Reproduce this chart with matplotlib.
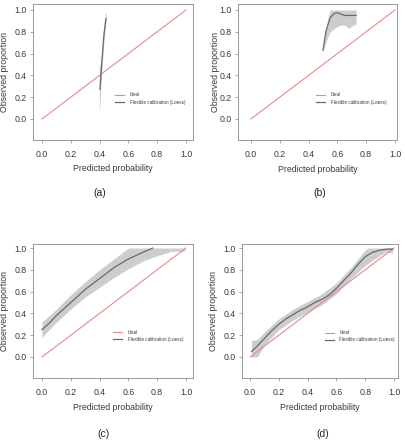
import matplotlib
matplotlib.use("Agg")
import matplotlib.pyplot as plt
import numpy as np

plt.rcParams['font.family'] = ['Liberation Sans', 'DejaVu Sans']

# ---------------- data ----------------
ideal_x = [0.0, 1.0]
ideal_y = [0.0, 1.0]

# (a)
a_x = [0.403, 0.41, 0.42, 0.43, 0.444]
a_y = [0.27, 0.42, 0.60, 0.77, 0.92]
a_band_x = [0.398, 0.405, 0.41, 0.42, 0.43, 0.44, 0.446]
a_lo = [0.05, 0.18, 0.33, 0.52, 0.70, 0.84, 0.90]
a_hi = [0.45, 0.52, 0.55, 0.68, 0.85, 0.97, 0.98]

# (b)
b_x = [0.50, 0.52, 0.55, 0.58, 0.60, 0.62, 0.65, 0.70, 0.73]
b_y = [0.63, 0.80, 0.93, 0.97, 0.975, 0.965, 0.95, 0.95, 0.95]
b_band_x = [0.50, 0.52, 0.53, 0.55, 0.58, 0.60, 0.62, 0.65, 0.68, 0.70, 0.72, 0.73]
b_lo = [0.62, 0.70, 0.74, 0.80, 0.83, 0.85, 0.86, 0.86, 0.83, 0.85, 0.87, 0.86]
b_hi = [0.66, 0.82, 0.90, 1.00, 1.00, 1.00, 1.00, 1.00, 1.00, 1.00, 1.00, 1.00]

# (c)
c_x = [0.0, 0.05, 0.1, 0.15, 0.2, 0.25, 0.3, 0.35, 0.4, 0.45, 0.5, 0.55, 0.6, 0.65, 0.7, 0.77]
c_y = [0.25, 0.31, 0.38, 0.44, 0.50, 0.56, 0.62, 0.67, 0.72, 0.77, 0.82, 0.86, 0.90, 0.93, 0.96, 1.0]
c_band_x = [0.0, 0.1, 0.2, 0.3, 0.4, 0.5, 0.6, 0.7, 0.8, 0.9, 0.99]
c_lo = [0.18, 0.32, 0.44, 0.55, 0.64, 0.73, 0.81, 0.88, 0.93, 0.97, 0.97]
c_hi = [0.32, 0.44, 0.57, 0.69, 0.80, 0.90, 1.0, 1.0, 1.0, 1.0, 1.0]

# (d)
d_x = [0.01, 0.05, 0.1, 0.15, 0.2, 0.25, 0.3, 0.35, 0.4, 0.45, 0.5, 0.55, 0.6,
       0.65, 0.7, 0.75, 0.8, 0.85, 0.9, 0.95, 0.99]
d_y = [0.05, 0.10, 0.17, 0.24, 0.30, 0.35, 0.39, 0.43, 0.46, 0.50, 0.53, 0.57, 0.63,
       0.70, 0.77, 0.85, 0.92, 0.96, 0.98, 0.99, 0.99]
d_band_x = [0.01, 0.05, 0.1, 0.2, 0.3, 0.4, 0.5, 0.6, 0.7, 0.75, 0.8, 0.82, 0.9, 0.95, 0.99]
d_lo = [0.0, 0.0, 0.11, 0.25, 0.34, 0.41, 0.48, 0.58, 0.72, 0.78, 0.84, 0.86, 0.93, 0.97, 0.95]
d_hi = [0.15, 0.16, 0.23, 0.35, 0.44, 0.51, 0.58, 0.68, 0.82, 0.90, 0.98, 1.0, 1.0, 1.0, 1.0]

ticks = [0.0, 0.2, 0.4, 0.6, 0.8, 1.0]
tick_labels = ["0.0", "0.2", "0.4", "0.6", "0.8", "1.0"]
legend_labels = ["Ideal", "Flexible calibration (Loess)"]
panel_labels = ["(a)", "(b)", "(c)", "(d)"]

# ---------------- layout ----------------
W, H = 406, 440
fig = plt.figure(figsize=(W / 100, H / 100), dpi=100)
fig.patch.set_facecolor('white')

def frac(l, t, r, b):
    return [l / W, 1 - b / H, (r - l) / W, (b - t) / H]

panels = [
    dict(rect=frac(33, 4, 193, 140), xlim=(-0.0625, 1.049), ylim=(-0.193, 1.055),
         x=a_x, y=a_y, bx=a_band_x, lo=a_lo, hi=a_hi, ylab=-0.148, xlab=-0.176,
         leg=(0.5125, 0.305), lab=(100, 193)),
    dict(rect=frac(238, 4, 397, 140), xlim=(-0.090, 1.014), ylim=(-0.193, 1.055),
         x=b_x, y=b_y, bx=b_band_x, lo=b_lo, hi=b_hi, ylab=-0.113, xlab=-0.183,
         leg=(0.49, 0.305), lab=(320, 193)),
    dict(rect=frac(33, 244, 193, 378), xlim=(-0.0625, 1.049), ylim=(-0.193, 1.037),
         x=c_x, y=c_y, bx=c_band_x, lo=c_lo, hi=c_hi, ylab=-0.148, xlab=-0.187,
         leg=(0.50, 0.313), lab=(103, 434)),
    dict(rect=frac(242, 244, 398, 378), xlim=(-0.056, 1.028), ylim=(-0.193, 1.037),
         x=d_x, y=d_y, bx=d_band_x, lo=d_lo, hi=d_hi, ylab=-0.154, xlab=-0.187,
         leg=(0.53, 0.31), lab=(323, 434)),
]

red = '#e38b8b'
band_c = '#cdcdcd'
curve_c = '#6a6a6a'
frame_c = '#8a8a8a'
text_c = '#3a3a3a'

for p, plab in zip(panels, panel_labels):
    ax = fig.add_axes(p['rect'])
    ax.fill_between(p['bx'], p['lo'], p['hi'], color=band_c, lw=0, zorder=1)
    l1, = ax.plot(ideal_x, ideal_y, color=red, lw=0.8, zorder=2)
    l2, = ax.plot(p['x'], p['y'], color=curve_c, lw=0.9, zorder=3)
    ax.set_xlim(*p['xlim'])
    ax.set_ylim(*p['ylim'])
    ax.set_xticks(ticks)
    ax.set_xticklabels(tick_labels)
    ax.set_yticks(ticks)
    ax.set_yticklabels(tick_labels)
    ax.tick_params(labelsize=6.3, length=2.5, width=0.5, colors=frame_c,
                   labelcolor=text_c)
    ax.tick_params(axis='x', pad=5)
    ax.tick_params(axis='y', pad=2)
    for s in ax.spines.values():
        s.set_color(frame_c)
        s.set_linewidth(0.6)
    ax.set_xlabel("Predicted probability", fontsize=6.3, color=text_c)
    ax.set_ylabel("Observed proportion", fontsize=6.3, color=text_c)
    ax.xaxis.set_label_coords(0.5, p['xlab'])
    ax.yaxis.set_label_coords(p['ylab'], 0.5)
    ax.legend([l1, l2], legend_labels, loc='center left', bbox_to_anchor=p['leg'],
              frameon=False, fontsize=3.3, handlelength=2.0, handletextpad=1.2,
              borderpad=0, borderaxespad=0, labelspacing=0.45, labelcolor=text_c)
    fig.text(p['lab'][0] / W, 1 - p['lab'][1] / H, plab, ha='center', va='center',
             fontsize=7.5, color='#222222')

fig.savefig("out.png", dpi=100, facecolor='white')
